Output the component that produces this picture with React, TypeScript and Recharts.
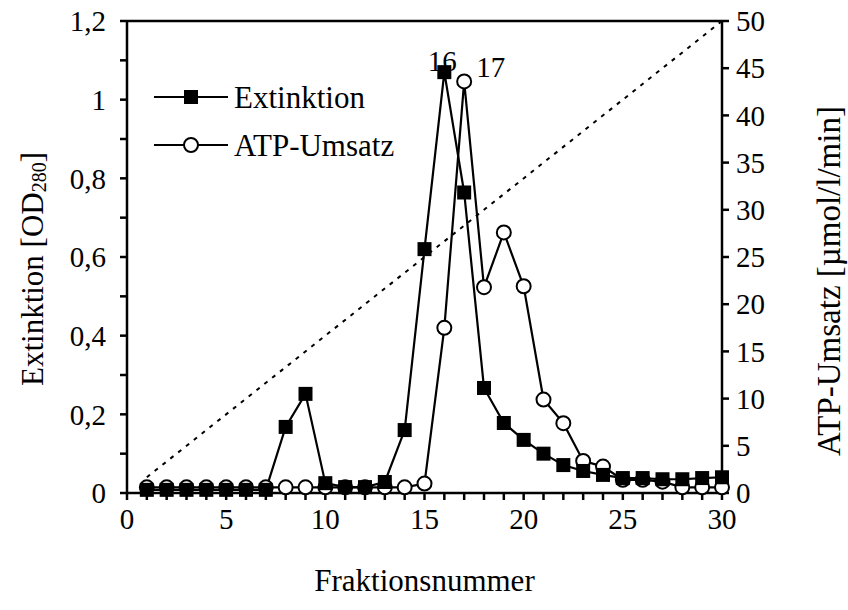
import React from "react";
import {
  ComposedChart,
  Line,
  XAxis,
  YAxis,
  ReferenceLine,
  Label,
} from "recharts";

const fractions = [
  1, 2, 3, 4, 5, 6, 7, 8, 9, 10, 11, 12, 13, 14, 15,
  16, 17, 18, 19, 20, 21, 22, 23, 24, 25, 26, 27, 28, 29, 30,
];
const extinktion = [
  0.008, 0.008, 0.008, 0.008, 0.008, 0.008, 0.008, 0.168, 0.252, 0.025,
  0.015, 0.015, 0.028, 0.16, 0.62, 1.07, 0.764, 0.267, 0.178, 0.135,
  0.1, 0.071, 0.056, 0.046, 0.038, 0.038, 0.035, 0.035, 0.038, 0.04,
];
const atpUmsatz = [
  0.6, 0.6, 0.6, 0.6, 0.6, 0.6, 0.6, 0.6, 0.6, 0.6,
  0.6, 0.6, 0.6, 0.6, 1.0, 17.5, 43.6, 21.8, 27.6, 21.9,
  9.9, 7.4, 3.4, 2.8, 1.4, 1.4, 1.2, 0.6, 0.6, 0.6,
];
const gradientX = [1, 30];
const gradientY = [0.04, 1.2];

const xTicks = Array.from({ length: 31 }, (_, i) => i);
const leftTicks = [0, 0.1, 0.2, 0.3, 0.4, 0.5, 0.6, 0.7, 0.8, 0.9, 1.0, 1.1, 1.2];
const rightTicks = [0, 5, 10, 15, 20, 25, 30, 35, 40, 45, 50];
const peakLabels = [16, 17];

const rows = fractions.map((f, i) => ({ x: f, ext: extinktion[i], atp: atpUmsatz[i] }));
const gradientRows = gradientX.map((x, i) => ({ x, grad: gradientY[i] }));

const FONT = "'Liberation Serif', 'Times New Roman', serif";
const tickStyle = { fill: "#000", fontSize: 29, fontFamily: FONT };

function SquareDot(props: any) {
  const { cx, cy } = props;
  if (cx == null || cy == null) return null;
  return <rect x={cx - 7} y={cy - 7} width={14} height={14} fill="#000" />;
}

function CircleDot(props: any) {
  const { cx, cy } = props;
  if (cx == null || cy == null) return null;
  return <circle cx={cx} cy={cy} r={7} fill="#fff" stroke="#000" strokeWidth={2} />;
}

function extLabel(props: any) {
  const { x, y, index } = props;
  if (fractions[index] !== peakLabels[0]) return null;
  return (
    <text x={x - 2} y={y - 1} textAnchor="middle" fontSize={29} fontFamily={FONT} fill="#000">
      {fractions[index]}
    </text>
  );
}

function atpLabel(props: any) {
  const { x, y, index } = props;
  if (fractions[index] !== peakLabels[1]) return null;
  return (
    <text x={x + 12} y={y - 4} textAnchor="start" fontSize={29} fontFamily={FONT} fill="#000">
      {fractions[index]}
    </text>
  );
}

function LegendBox() {
  const item = (marker: React.ReactNode, text: string) => (
    <div style={{ display: "flex", alignItems: "center", height: 48 }}>
      <svg width={78} height={20} style={{ marginRight: 4 }}>
        <line x1={2} y1={10} x2={76} y2={10} stroke="#000" strokeWidth={2} />
        {marker}
      </svg>
      <span style={{ fontFamily: FONT, fontSize: 31, color: "#000", lineHeight: 1 }}>{text}</span>
    </div>
  );
  return (
    <div style={{ position: "absolute", left: 152, top: 73 }}>
      {item(<rect x={32} y={3} width={14} height={14} fill="#000" />, "Extinktion")}
      {item(<circle cx={39} cy={10} r={7} fill="#fff" stroke="#000" strokeWidth={2} />, "ATP-Umsatz")}
    </div>
  );
}

function LeftTitle(props: any) {
  const { viewBox } = props;
  const cx = 32;
  const cy = viewBox.y + viewBox.height / 2 + 12;
  return (
    <text
      x={cx}
      y={cy}
      transform={`rotate(-90, ${cx}, ${cy})`}
      textAnchor="middle"
      dominantBaseline="central"
      fontSize={31}
      fontFamily={FONT}
      fill="#000"
    >
      Extinktion [OD
      <tspan fontSize={20} dy={7}>280</tspan>
      <tspan dy={-7}>]</tspan>
    </text>
  );
}

function RightTitle(props: any) {
  const { viewBox } = props;
  const cx = 829;
  const cy = viewBox.y + viewBox.height / 2 + 24;
  return (
    <text
      x={cx}
      y={cy}
      transform={`rotate(-90, ${cx}, ${cy})`}
      textAnchor="middle"
      dominantBaseline="central"
      fontSize={33}
      fontFamily={FONT}
      fill="#000"
    >
      ATP-Umsatz [µmol/l/min]
    </text>
  );
}

export default function App() {
  return (
    <div style={{ position: "absolute", left: 0, top: 0, width: 848, height: 610, background: "#fff" }}>
      <ComposedChart
        width={848}
        height={610}
        data={rows}
        margin={{ top: 21, right: 66, bottom: 77, left: 67 }}
      >
        <XAxis
          dataKey="x"
          type="number"
          domain={[0, 30]}
          ticks={xTicks}
          interval={0}
          tickFormatter={(v: number) => (v % 5 === 0 ? String(v) : "")}
          stroke="#000"
          strokeWidth={2.5}
          tickSize={7}
          tickMargin={8}
          tick={tickStyle}
          height={40}
        >
          <Label
            value="Fraktionsnummer"
            position="bottom"
            offset={36}
            style={{ fontSize: 31, fontFamily: FONT, fill: "#000" }}
          />
        </XAxis>
        <YAxis
          yAxisId="left"
          domain={[0, 1.2]}
          ticks={leftTicks}
          interval={0}
          tickFormatter={(v: number) =>
            Math.round(v * 10) % 2 === 0 ? String(Math.round(v * 10) / 10).replace(".", ",") : ""
          }
          stroke="#000"
          strokeWidth={2.5}
          tickSize={7}
          tickMargin={14}
          tick={tickStyle}
          width={60}
        >
          <Label content={<LeftTitle />} />
        </YAxis>
        <YAxis
          yAxisId="right"
          orientation="right"
          domain={[0, 50]}
          ticks={rightTicks}
          interval={0}
          stroke="#000"
          strokeWidth={2.5}
          tickSize={7}
          tickMargin={7}
          tick={{ ...tickStyle, textAnchor: "start" }}
          width={60}
        >
          <Label content={<RightTitle />} />
        </YAxis>
        <ReferenceLine yAxisId="left" y={1.2} stroke="#000" strokeWidth={2.5} />
        <Line
          yAxisId="left"
          data={gradientRows}
          dataKey="grad"
          stroke="#000"
          strokeWidth={2}
          strokeDasharray="4 6"
          dot={false}
          isAnimationActive={false}
          legendType="none"
        />
        <Line
          yAxisId="right"
          dataKey="atp"
          stroke="#000"
          strokeWidth={2.2}
          dot={<CircleDot />}
          label={atpLabel}
          isAnimationActive={false}
        />
        <Line
          yAxisId="left"
          dataKey="ext"
          stroke="#000"
          strokeWidth={2.2}
          dot={<SquareDot />}
          label={extLabel}
          isAnimationActive={false}
        />
      </ComposedChart>
      <LegendBox />
    </div>
  );
}
